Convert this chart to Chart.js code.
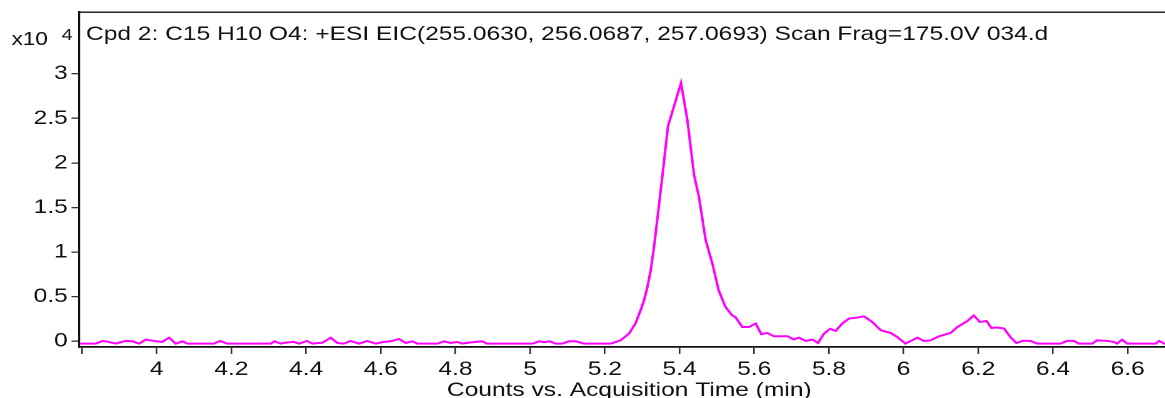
<!DOCTYPE html>
<html>
<head>
<meta charset="utf-8">
<script src="https://cdn.jsdelivr.net/npm/chart.js@4/dist/chart.umd.min.js"></script>
<style>
  html, body { margin: 0; padding: 0; background: #fff; overflow: hidden; }
  #wrap { width: 1165px; height: 398px; overflow: hidden; }
  /* the reference is a horizontally stretched export, so stretch the canvas the same way */
  #eic { transform: scaleX(1.25); transform-origin: 0 0; display: block; }
</style>
</head>
<body>
<div id="wrap"><canvas id="eic" width="932" height="398"></canvas></div>
<script>
// EIC trace, intensity in units of 10^4 counts
const times = [
  3.795, 3.837, 3.855, 3.872, 3.890, 3.917, 3.935, 3.953, 3.971, 3.993,
  4.015, 4.033, 4.051, 4.069, 4.082, 4.153, 4.170, 4.189, 4.305, 4.316,
  4.332, 4.345, 4.368, 4.381, 4.402, 4.417, 4.444, 4.466, 4.484, 4.501,
  4.519, 4.542, 4.564, 4.586, 4.609, 4.627, 4.649, 4.667, 4.685, 4.698,
  4.752, 4.769, 4.787, 4.805, 4.818, 4.836, 4.854, 4.872, 4.884, 5.006,
  5.024, 5.037, 5.053, 5.068, 5.086, 5.104, 5.122, 5.144, 5.216, 5.242,
  5.265, 5.282, 5.296, 5.305, 5.314, 5.323, 5.333, 5.354, 5.369, 5.404,
  5.421, 5.439, 5.452, 5.470, 5.488, 5.505, 5.523, 5.541, 5.550, 5.568,
  5.586, 5.604, 5.619, 5.635, 5.653, 5.689, 5.706, 5.720, 5.738, 5.756,
  5.771, 5.787, 5.803, 5.818, 5.836, 5.854, 5.876, 5.894, 5.916, 5.939,
  5.965, 5.983, 6.005, 6.037, 6.054, 6.072, 6.095, 6.126, 6.144, 6.171,
  6.188, 6.204, 6.222, 6.235, 6.251, 6.269, 6.286, 6.302, 6.318, 6.340,
  6.358, 6.420, 6.438, 6.456, 6.469, 6.505, 6.518, 6.545, 6.563, 6.572,
  6.585, 6.599, 6.675, 6.684, 6.698, 6.705
];
const counts = [
  -0.026, -0.026, 0.004, -0.007, -0.026, 0.004, 0.000, -0.026, 0.019, 0.004,
  -0.007, 0.041, -0.026, 0.000, -0.026, -0.026, 0.004, -0.026, -0.026, 0.000,
  -0.026, -0.015, -0.007, -0.026, 0.004, -0.026, -0.015, 0.041, -0.019, -0.026,
  0.004, -0.026, 0.004, -0.026, -0.007, 0.000, 0.026, -0.019, 0.000, -0.026,
  -0.026, 0.000, -0.019, -0.007, -0.026, -0.015, -0.007, 0.000, -0.026, -0.026,
  0.000, -0.010, 0.000, -0.026, -0.026, 0.000, 0.000, -0.026, -0.026, 0.010,
  0.087, 0.200, 0.350, 0.460, 0.610, 0.800, 1.100, 1.850, 2.410, 2.896,
  2.480, 1.865, 1.620, 1.135, 0.870, 0.570, 0.385, 0.290, 0.270, 0.160,
  0.160, 0.200, 0.080, 0.094, 0.056, 0.056, 0.022, 0.041, 0.004, 0.019,
  -0.019, 0.086, 0.140, 0.116, 0.200, 0.255, 0.266, 0.280, 0.217, 0.124,
  0.094, 0.048, -0.026, 0.041, 0.004, 0.011, 0.056, 0.094, 0.160, 0.228,
  0.290, 0.217, 0.228, 0.150, 0.154, 0.143, 0.048, -0.019, 0.004, 0.004,
  -0.026, -0.026, 0.004, 0.004, -0.026, -0.026, 0.011, 0.004, -0.007, -0.026,
  0.019, -0.026, -0.026, 0.004, -0.026, -0.026
];
const xTicks = [3.8, 4.0, 4.2, 4.4, 4.6, 4.8, 5.0, 5.2, 5.4, 5.6, 5.8, 6.0, 6.2, 6.4, 6.6];
const yTicks = [0, 0.5, 1, 1.5, 2, 2.5, 3];
const xRange = [3.792, 6.700];
const yRange = [-0.064, 3.693];

const headerText = 'Cpd 2: C15 H10 O4: +ESI EIC(255.0630, 256.0687, 257.0693) Scan Frag=175.0V 034.d';
const xTitleText = 'Counts vs. Acquisition Time (min)';

const FONT = "'Liberation Sans', Arial, sans-serif";
const INK = '#111';

// header, exponent and x axis title
const textPlugin = {
    id: 'eicText',
    afterDraw(chart) {
        const ctx = chart.ctx;
        ctx.save();
        ctx.fillStyle = INK;
        ctx.textBaseline = 'alphabetic';
        ctx.textAlign = 'left';
        ctx.font = `19.65px ${FONT}`;
        ctx.fillText(headerText, 68.8, 40);
        ctx.font = `18px ${FONT}`;
        ctx.fillText('x10', 9.3, 45);
        ctx.font = `16px ${FONT}`;
        ctx.fillText('4', 49.3, 40);
        ctx.font = `19.65px ${FONT}`;
        ctx.textAlign = 'center';
        ctx.fillText(xTitleText, 503.4, 396);
        ctx.restore();
    }
};

const fmt = v => String(Number(v.toFixed(1)));

new Chart(document.getElementById('eic').getContext('2d'), {
    type: 'line',
    data: {
        datasets: [{
            data: times.map((t, i) => ({ x: t, y: counts[i] })),
            borderColor: '#ff00ff',
            borderWidth: 2,
            pointRadius: 0,
            tension: 0,
            fill: false
        }]
    },
    options: {
        responsive: false,
        devicePixelRatio: 2,
        animation: false,
        layout: { padding: { top: 12, left: 0, right: 0, bottom: 0 } },
        plugins: { legend: { display: false }, tooltip: { enabled: false } },
        scales: {
            x: {
                type: 'linear',
                position: 'bottom',
                min: xRange[0],
                max: xRange[1],
                afterBuildTicks: s => { s.ticks = xTicks.map(v => ({ value: v })); },
                afterFit: s => { s.height = 51; s.paddingLeft = 0; s.paddingRight = 0; },
                grid: { drawOnChartArea: false, drawTicks: true, tickLength: 7, color: '#333', lineWidth: 1.3 },
                border: { display: true, color: '#111', width: 1.8 },
                ticks: {
                    autoSkip: false,
                    maxRotation: 0,
                    padding: 4,
                    color: INK,
                    font: { family: FONT, size: 19.65 },
                    callback: v => (v < 3.9 ? '' : fmt(v))
                }
            },
            x2: {
                type: 'linear',
                position: 'top',
                min: xRange[0],
                max: xRange[1],
                afterFit: s => { s.height = 0; s.paddingLeft = 0; s.paddingRight = 0; },
                grid: { display: false, drawTicks: false },
                border: { display: true, color: '#111', width: 1.4 },
                ticks: { display: false }
            },
            y: {
                type: 'linear',
                min: yRange[0],
                max: yRange[1],
                afterBuildTicks: s => { s.ticks = yTicks.map(v => ({ value: v })); },
                afterFit: s => { s.width = 63.2; s.paddingTop = 0; s.paddingBottom = 0; },
                grid: { drawOnChartArea: false, drawTicks: true, tickLength: 6, color: '#333', lineWidth: 1.3 },
                border: { display: true, color: '#111', width: 1.6 },
                ticks: {
                    padding: 3,
                    color: INK,
                    font: { family: FONT, size: 19.65 },
                    callback: v => fmt(v)
                }
            }
        }
    },
    plugins: [textPlugin]
});
</script>
</body>
</html>
